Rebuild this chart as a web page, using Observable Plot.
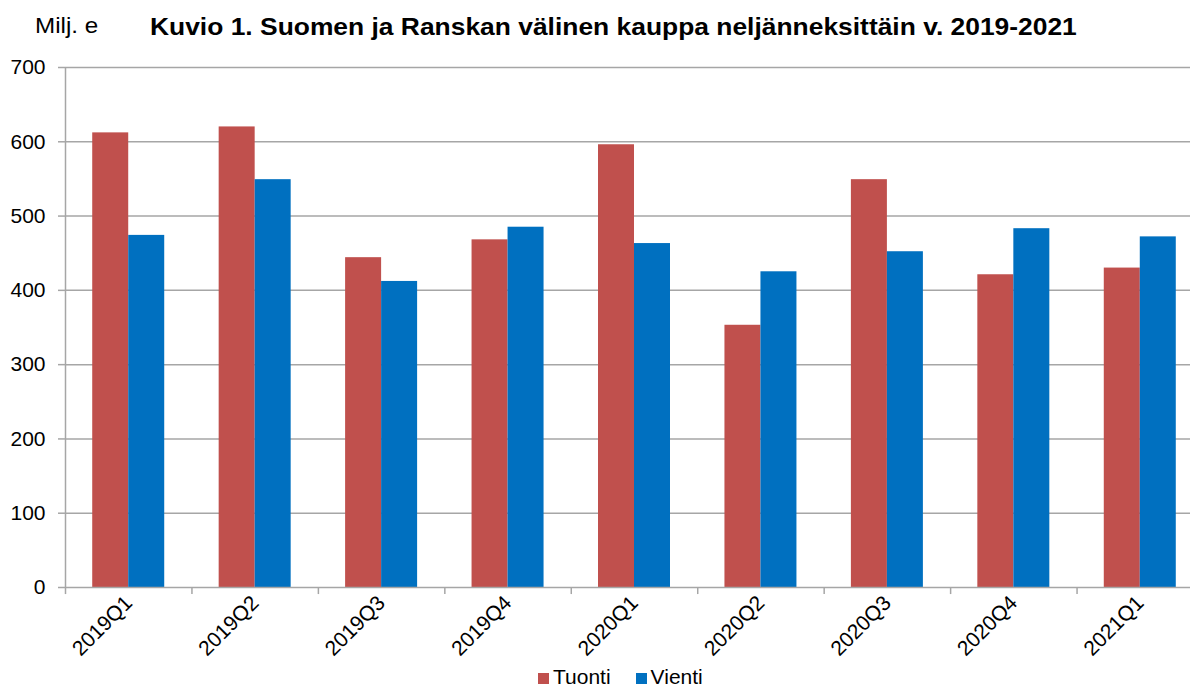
<!DOCTYPE html>
<html>
<head>
<meta charset="utf-8">
<script src="https://cdn.jsdelivr.net/npm/d3@7"></script>
<script src="https://cdn.jsdelivr.net/npm/@observablehq/plot@0.6"></script>
<style>
  html, body { margin: 0; padding: 0; background: #fff; }
  body { width: 1190px; height: 688px; position: relative; overflow: hidden; font-family: "Liberation Sans", Arial, sans-serif; }
  #chart { position: absolute; left: 0; top: 0; z-index: 0; }
  #unit { position: absolute; left: 35px; top: 13px; font-size: 22px; color: #000; z-index: 2; transform: scaleX(1.1); transform-origin: 0 0; }
  #title { position: absolute; left: 150px; top: 13px; font-size: 24px; font-weight: bold; color: #000; white-space: nowrap; z-index: 2; transform: scaleX(1.1); transform-origin: 0 0; }
  #legend { position: absolute; left: 538px; top: 666px; font-size: 21px; color: #000; white-space: nowrap; line-height: 22px; z-index: 2; }
  #legend .sw { display: inline-block; width: 11px; height: 11px; margin-right: 4px; vertical-align: 0px; }
  #legend .item { margin-right: 25px; }
</style>
</head>
<body>
<div id="chart"></div>
<div id="unit">Milj. e</div>
<div id="title">Kuvio 1. Suomen ja Ranskan välinen kauppa neljänneksittäin v. 2019-2021</div>
<div id="legend"></div>
<script>
const quarters = ["2019Q1","2019Q2","2019Q3","2019Q4","2020Q1","2020Q2","2020Q3","2020Q4","2021Q1"];
const series = ["Tuonti", "Vienti"];
const tuonti = [612, 620, 444, 468, 596, 353, 549, 421, 430];
const vienti = [474, 549, 412, 485, 463, 425, 452, 483, 472];
const colors = ["#C0504D", "#0070C0"];
const yTicks = [0, 100, 200, 300, 400, 500, 600, 700];

const data = [];
quarters.forEach((q, i) => {
  data.push({quarter: q, series: "Tuonti", value: tuonti[i]});
  data.push({quarter: q, series: "Vienti", value: vienti[i]});
});

const W = 1190, H = 688;
const mL = 65, mT = 67, mB = 101;
const xRange = [mL, 1203];
const step = (xRange[1] - xRange[0]) / quarters.length;
const barW = 36;
const grid = "#a6a6a6";

const chart = Plot.plot({
  width: W,
  height: H,
  marginLeft: mL,
  marginRight: 0,
  marginTop: mT,
  marginBottom: mB,
  style: {fontFamily: "Liberation Sans, Arial, sans-serif", fontSize: "20px", color: "#000", background: "transparent", overflow: "visible"},
  x: {domain: quarters, range: xRange, padding: 0, round: false},
  y: {domain: [0, 700], range: [H - mB, mT]},
  color: {domain: series, range: colors},
  marks: [
    Plot.ruleY(yTicks.filter(d => d > 0), {stroke: grid, strokeWidth: 1.5}),
    Plot.barY(data.filter(d => d.series === "Tuonti"), {
      x: "quarter", y: "value", fill: "series",
      insetLeft: step / 2 - barW, insetRight: step / 2
    }),
    Plot.barY(data.filter(d => d.series === "Vienti"), {
      x: "quarter", y: "value", fill: "series",
      insetLeft: step / 2, insetRight: step / 2 - barW
    }),
    Plot.ruleY([0], {stroke: grid, strokeWidth: 1.5}),
    Plot.ruleX(quarters, {x: d => d, dx: -step / 2, y1: 0, y2: -9.5, stroke: grid, strokeWidth: 1.5}),
    Plot.ruleX([quarters[0]], {x: d => d, dx: -step / 2, y1: 0, y2: 700, stroke: grid, strokeWidth: 1.5}),
    Plot.axisY({ticks: yTicks, tickSize: 7, tickPadding: 13, stroke: grid, strokeWidth: 1.5, label: null, fontSize: 21, fill: "#000", tickFormat: d => String(d)}),
    Plot.axisX({tickSize: 0, tickRotate: -45, tickPadding: 12, label: null, fontSize: 21, fill: "#000"})
  ]
});
document.getElementById("chart").appendChild(chart);

const legend = document.getElementById("legend");
series.forEach((s, i) => {
  const item = document.createElement("span");
  item.className = "item";
  const sw = document.createElement("span");
  sw.className = "sw";
  sw.style.background = colors[i];
  item.appendChild(sw);
  item.appendChild(document.createTextNode(s));
  legend.appendChild(item);
});
</script>
</body>
</html>
